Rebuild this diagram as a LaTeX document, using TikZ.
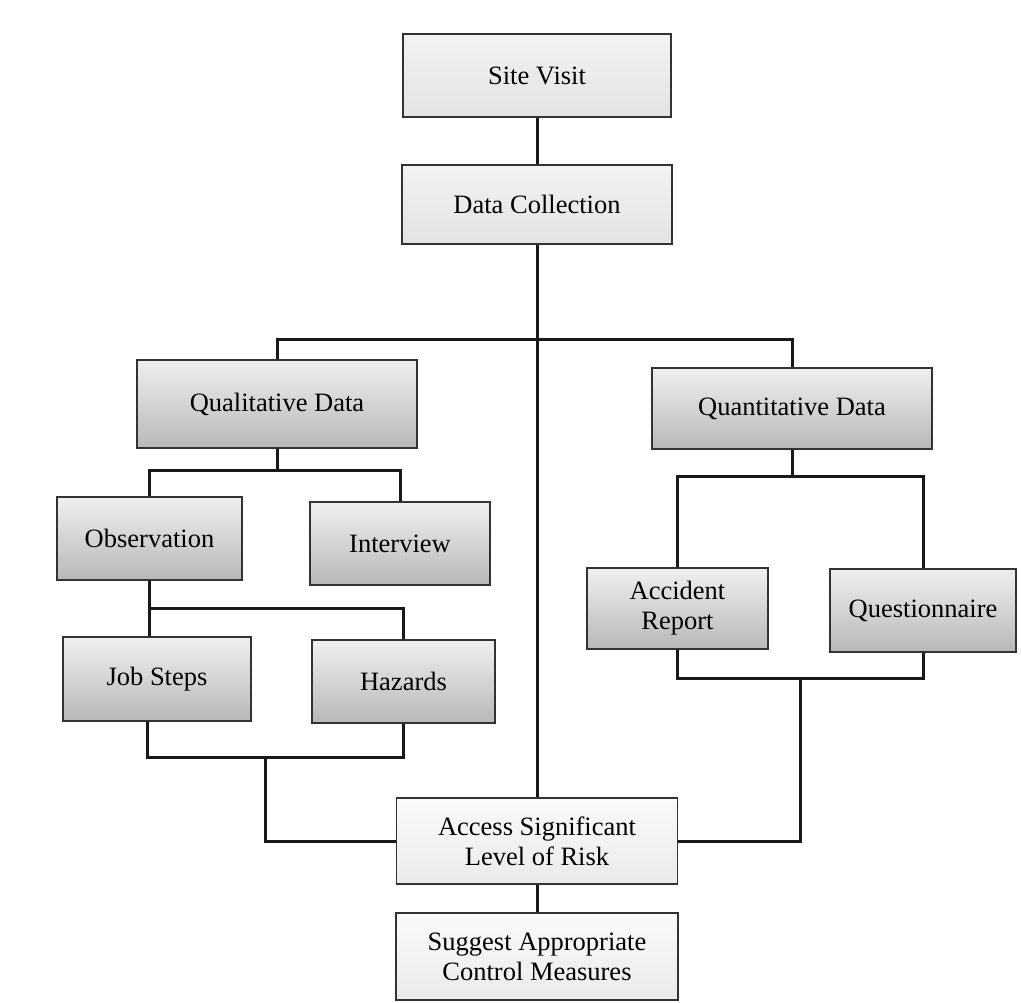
\documentclass[tikz,border=0pt]{standalone}
\usepackage{fontspec}
\setmainfont{Liberation Serif}
\begin{document}
\begin{tikzpicture}[x=1pt,y=-1pt,
  base/.style={draw=black!80, line width=1.6pt, align=center, inner sep=2pt,
    font=\fontsize{26.5pt}{30pt}\selectfont, text=black},
  darkbox/.style={base, top color=black!6, bottom color=black!28},
  lightbox/.style={base, top color=black!5, bottom color=black!11},
  palebox/.style={base, top color=black!2, bottom color=black!8},
  link/.style={draw=black!90, line width=3pt}]
\fill[white] (0,0) rectangle (1021,1003);
\useasboundingbox (0,0) rectangle (1021,1003);

\node[lightbox, minimum width=268pt, minimum height=83pt] (sv) at (537,75.5) {Site Visit};
\node[lightbox, minimum width=270pt, minimum height=79pt] (dc) at (537,204.5) {Data Collection};
\node[darkbox, minimum width=280pt, minimum height=88pt] (ql) at (277,404) {Qualitative Data};
\node[darkbox, minimum width=280pt, minimum height=81pt] (qn) at (792,408.5) {Quantitative Data};
\node[darkbox, minimum width=185pt, minimum height=83pt] (ob) at (149.5,538.5) {Observation};
\node[darkbox, minimum width=180pt, minimum height=83pt] (iv) at (400,543.5) {Interview};
\node[darkbox, minimum width=188pt, minimum height=84pt] (js) at (157,679) {Job Steps};
\node[darkbox, minimum width=183pt, minimum height=83pt] (hz) at (403.5,681.5) {Hazards};
\node[darkbox, minimum width=181pt, minimum height=81pt] (ar) at (677.5,608.5) {Accident\\Report};
\node[darkbox, minimum width=186pt, minimum height=83pt] (qu) at (923,610.5) {Questionnaire};
\node[palebox, minimum width=281pt, minimum height=86pt] (as) at (537,841) {Access Significant\\Level of Risk};
\node[palebox, minimum width=282pt, minimum height=87pt] (sg) at (537,956.5) {Suggest Appropriate\\Control Measures};

\coordinate (b1) at (277,470);
\coordinate (b2) at (149.5,608);
\coordinate (b3) at (147,757);
\coordinate (b4) at (265,757);
\coordinate (b5) at (792,476);
\coordinate (b6) at (800,678);

\draw[link] (sv) -- (dc);
\draw[link] (dc) -- (as);
\draw[link] (ql.north) -- ++(0,-20) -| (qn.north);
\draw[link] (ql.south) -- (b1);
\draw[link] (ob.north) |- (b1) -| (iv.north);
\draw[link] (ob.south) -- (b2) -- (b2 |- js.north);
\draw[link] (b2) -| (hz.north);
\draw[link] (b3 |- js.south) -- (b3) -| (hz.south);
\draw[link] (b4) |- (as.west);
\draw[link] (qn.south) -- (b5);
\draw[link] (ar.north) |- (b5) -| (qu.north);
\draw[link] (ar.south) |- (b6) -| (qu.south);
\draw[link] (b6) |- (as.east);
\draw[link] (as) -- (sg);
\end{tikzpicture}
\end{document}
